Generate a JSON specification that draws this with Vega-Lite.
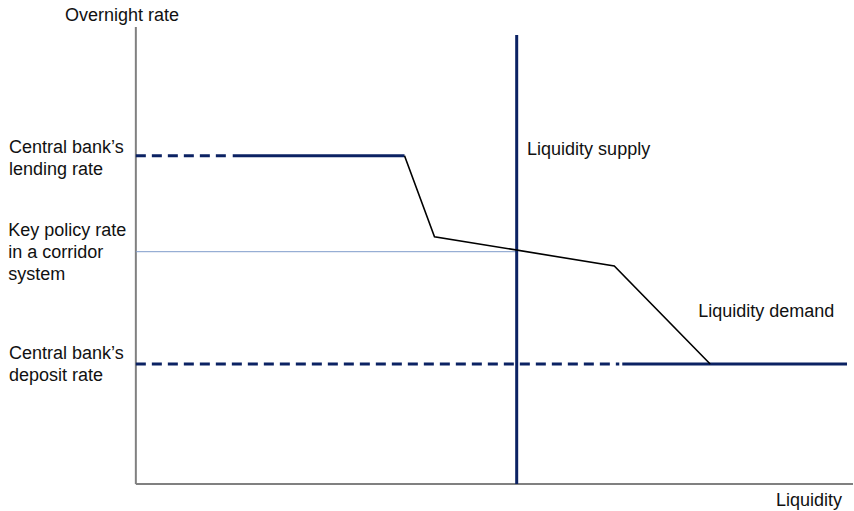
{
  "$schema": "https://vega.github.io/schema/vega-lite/v6.json",
  "width": 854,
  "height": 511,
  "autosize": {"type": "fit", "contains": "padding"},
  "padding": 0,
  "background": "white",
  "config": {"view": {"stroke": null}},
  "resolve": {"scale": {"x": "shared", "y": "shared"}},
  "layer": [
    {
      "data": {"values": [
        {"name": "y axis", "x": 0, "x2": 0, "y": 0, "y2": 4.57},
        {"name": "x axis", "x": 0, "x2": 71.8, "y": 0, "y2": 0}
      ]},
      "mark": {"type": "rule", "color": "#808080", "strokeWidth": 2},
      "encoding": {
        "x": {"field": "x", "type": "quantitative", "scale": {"domain": [-13.6, 71.8], "nice": false, "zero": false}, "axis": null},
        "x2": {"field": "x2"},
        "y": {"field": "y", "type": "quantitative", "scale": {"domain": [-0.27, 4.84], "nice": false, "zero": false}, "axis": null},
        "y2": {"field": "y2"}
      }
    },
    {
      "data": {"values": [
        {"name": "key policy rate", "x": 0, "x2": 38.13, "y": 2.323, "y2": 2.323}
      ]},
      "mark": {"type": "rule", "color": "#7f9ccb", "strokeWidth": 1},
      "encoding": {
        "x": {"field": "x", "type": "quantitative"},
        "x2": {"field": "x2"},
        "y": {"field": "y", "type": "quantitative"},
        "y2": {"field": "y2"}
      }
    },
    {
      "data": {"values": [
        {"name": "lending dashed", "x": 0, "x2": 9.6, "y": 3.283, "y2": 3.283},
        {"name": "deposit dashed", "x": 0, "x2": 48.4, "y": 1.2, "y2": 1.2}
      ]},
      "mark": {"type": "rule", "color": "#0b2263", "strokeWidth": 3, "strokeDash": [10, 6]},
      "encoding": {
        "x": {"field": "x", "type": "quantitative"},
        "x2": {"field": "x2"},
        "y": {"field": "y", "type": "quantitative"},
        "y2": {"field": "y2"}
      }
    },
    {
      "data": {"values": [
        {"name": "lending solid", "x": 9.7, "x2": 26.9, "y": 3.283, "y2": 3.283},
        {"name": "deposit solid", "x": 48.7, "x2": 71.2, "y": 1.2, "y2": 1.2},
        {"name": "liquidity supply", "x": 38.13, "x2": 38.13, "y": 0, "y2": 4.49}
      ]},
      "mark": {"type": "rule", "color": "#0b2263", "strokeWidth": 3},
      "encoding": {
        "x": {"field": "x", "type": "quantitative"},
        "x2": {"field": "x2"},
        "y": {"field": "y", "type": "quantitative"},
        "y2": {"field": "y2"}
      }
    },
    {
      "data": {"values": [
        {"x": 26.9, "y": 3.283},
        {"x": 29.9, "y": 2.473},
        {"x": 47.9, "y": 2.18},
        {"x": 57.5, "y": 1.2}
      ]},
      "mark": {"type": "line", "color": "#000000", "strokeWidth": 1.6},
      "encoding": {
        "x": {"field": "x", "type": "quantitative"},
        "y": {"field": "y", "type": "quantitative"},
        "order": {"field": "x"}
      }
    },
    {
      "data": {"values": [
        {"label": "Overnight rate", "x": -7.1, "y": 4.633},
        {"label": "Central bank’s\nlending rate", "x": -12.7, "y": 3.307},
        {"label": "Key policy rate\nin a corridor\nsystem", "x": -12.77, "y": 2.48},
        {"label": "Central bank’s\ndeposit rate", "x": -12.7, "y": 1.247},
        {"label": "Liquidity supply", "x": 39.17, "y": 3.29},
        {"label": "Liquidity demand", "x": 56.3, "y": 1.673}
      ]},
      "mark": {"type": "text", "align": "left", "baseline": "alphabetic", "font": "Liberation Sans", "fontSize": 18, "color": "#111111", "lineBreak": "\n", "lineHeight": 22},
      "encoding": {
        "x": {"field": "x", "type": "quantitative"},
        "y": {"field": "y", "type": "quantitative"},
        "text": {"field": "label"}
      }
    },
    {
      "data": {"values": [
        {"label": "Liquidity", "x": 70.7, "y": -0.22}
      ]},
      "mark": {"type": "text", "align": "right", "baseline": "alphabetic", "font": "Liberation Sans", "fontSize": 18, "color": "#111111"},
      "encoding": {
        "x": {"field": "x", "type": "quantitative"},
        "y": {"field": "y", "type": "quantitative"},
        "text": {"field": "label"}
      }
    }
  ]
}
